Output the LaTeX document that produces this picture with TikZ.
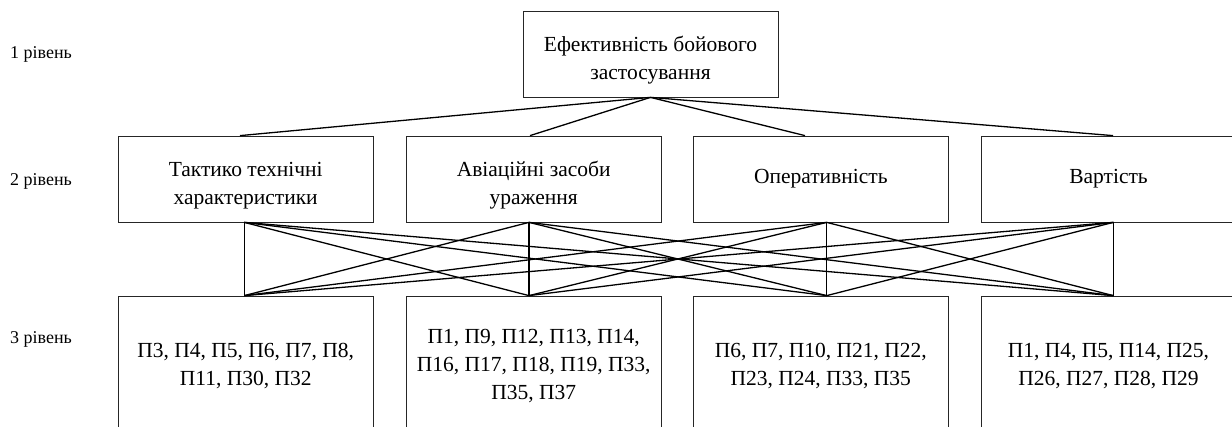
\documentclass[tikz,border=0pt]{standalone}
\usepackage{fontspec}
\setmainfont{Liberation Serif}
\usetikzlibrary{calc}
\newcommand\boxfont{\fontsize{21.5}{28}\selectfont}
\newcommand\lvlfont{\fontsize{18}{22}\selectfont}
\begin{document}
\begin{tikzpicture}[x=1pt,y=-1pt,
  box/.style={draw=black!85, line width=0.75pt, align=center, font=\boxfont, inner sep=0pt, minimum width=255pt},
  lvl/.style={anchor=west, font=\lvlfont, inner sep=0pt},
  conn/.style={draw=black, line width=1.3pt}]
\useasboundingbox (0,0) rectangle (1232,427);
\clip (0,0) rectangle (1232,427);
% labels
\node[lvl] (l1) at (10,54) {1 рівень};
\node[lvl] (l2) at (10,181) {2 рівень};
\node[lvl] (l3) at (10,339) {3 рівень};
% level 1
\node[box, minimum height=86pt] (top) at (650.5,54) {\rule{0pt}{4pt}\\[-4pt]Ефективність бойового\\застосування};
% level 2
\node[box, minimum height=86pt] (b1) at (245.7,179) {\rule{0pt}{4pt}\\[-4pt]Тактико технічні\\характеристики};
\node[box, minimum height=86pt] (b2) at (533.7,179) {\rule{0pt}{4pt}\\[-4pt]Авіаційні засоби\\ураження};
\node[box, minimum height=86pt] (b3) at (820.8,179) {\raisebox{-3pt}{Оперативність}};
\node[box, minimum height=86pt] (b4) at (1108.5,179) {\raisebox{-3pt}{Вартість}};
% level 3
\node[box, minimum height=140pt] (c1) at (245.7,366) {П3, П4, П5, П6, П7, П8,\\П11, П30, П32};
\node[box, minimum height=140pt] (c2) at (533.7,366) {П1, П9, П12, П13, П14,\\П16, П17, П18, П19, П33,\\П35, П37};
\node[box, minimum height=140pt] (c3) at (820.8,366) {П6, П7, П10, П21, П22,\\П23, П24, П33, П35};
\node[box, minimum height=140pt] (c4) at (1108.5,366) {П1, П4, П5, П14, П25,\\П26, П27, П28, П29};
% connection points
\coordinate (u1) at ($(b1.north)+(-5.7,0)$);
\coordinate (u2) at ($(b2.north)+(-3.7,0)$);
\coordinate (u3) at ($(b3.north)+(-15.8,0)$);
\coordinate (u4) at ($(b4.north)+(4.5,0)$);
\coordinate (d1) at ($(b1.south)+(-1.4,0)$);
\coordinate (d2) at ($(b2.south)+(-4.7,0)$);
\coordinate (d3) at ($(b3.south)+(5.9,0)$);
\coordinate (d4) at ($(b4.south)+(4.8,0)$);
\coordinate (e1) at ($(c1.north)+(-1.4,0)$);
\coordinate (e2) at ($(c2.north)+(-4.7,0)$);
\coordinate (e3) at ($(c3.north)+(5.9,0)$);
\coordinate (e4) at ($(c4.north)+(4.8,0)$);
% connectors
\foreach \i in {1,...,4} {\draw[conn] (top.south) -- (u\i);}
\foreach \i in {1,...,4} {\foreach \j in {1,...,4} {\draw[conn] (d\i) -- (e\j);}}
\end{tikzpicture}
\end{document}
